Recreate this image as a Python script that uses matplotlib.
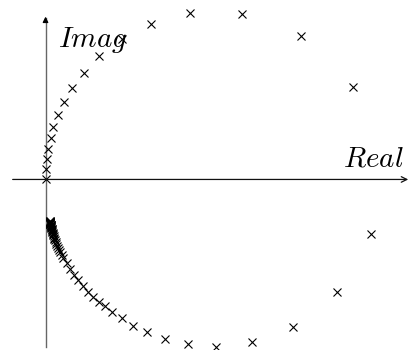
import matplotlib
matplotlib.use("Agg")
import matplotlib.pyplot as plt

plt.rcParams["mathtext.fontset"] = "cm"

# Nyquist samples, upper branch (starts at origin)
upper_re = [0.000, 0.001, 0.004, 0.008, 0.016, 0.024, 0.038, 0.057, 0.081,
            0.117, 0.163, 0.231, 0.319, 0.438, 0.595, 0.773, 0.931]
upper_im = [0.000, 0.032, 0.062, 0.092, 0.126, 0.159, 0.195, 0.235, 0.277,
            0.323, 0.374, 0.426, 0.471, 0.505, 0.502, 0.435, 0.281]

# lower branch, crowding together near its end point
lower_re = [0.988, 0.885, 0.751, 0.626, 0.517, 0.433, 0.362, 0.307, 0.266,
            0.231, 0.202, 0.180, 0.163, 0.145, 0.130, 0.115, 0.099, 0.086,
            0.074, 0.064, 0.054, 0.049, 0.045, 0.041, 0.038, 0.035, 0.033,
            0.031, 0.029, 0.027, 0.026, 0.025, 0.024, 0.023, 0.022, 0.021,
            0.021, 0.020, 0.019, 0.019, 0.018, 0.018, 0.018, 0.017, 0.017,
            0.016, 0.016, 0.016, 0.015, 0.015, 0.015, 0.015, 0.015, 0.015,
            0.014, 0.014, 0.014, 0.014, 0.014, 0.014]
lower_im = [-0.165, -0.340, -0.446, -0.493, -0.507, -0.499, -0.484, -0.461,
            -0.444, -0.420, -0.401, -0.385, -0.370, -0.355, -0.340, -0.323,
            -0.305, -0.289, -0.271, -0.253, -0.238, -0.229, -0.221, -0.214,
            -0.208, -0.201, -0.195, -0.190, -0.185, -0.180, -0.176, -0.172,
            -0.168, -0.165, -0.162, -0.159, -0.156, -0.153, -0.151, -0.149,
            -0.147, -0.145, -0.143, -0.141, -0.140, -0.139, -0.138, -0.137,
            -0.136, -0.135, -0.134, -0.133, -0.132, -0.131, -0.130, -0.129,
            -0.128, -0.128, -0.127, -0.127]

fig = plt.figure(figsize=(4.12, 3.5), dpi=100)
ax = fig.add_axes([0, 0, 1, 1])
ax.set_xlim(-0.138, 1.111)
ax.set_ylim(-0.517, 0.544)
ax.axis("off")

# coordinate axes: dark real axis, grey imaginary axis with a black head
ax.annotate("", xy=(1.108, 0), xytext=(-0.108, 0),
            arrowprops=dict(arrowstyle="->", color="#111111", lw=0.9))
ax.plot([0, 0], [-0.507, 0.49], color="#666666", lw=1.0)
ax.annotate("", xy=(0, 0.502), xytext=(0, 0.47),
            arrowprops=dict(arrowstyle="-|>", color="black", lw=0.9,
                            mutation_scale=8))

ax.plot(upper_re, upper_im, "x", color="black", ms=5.2, mew=0.8)
ax.plot(lower_re, lower_im, "x", color="black", ms=5.2, mew=0.8)

ax.text(0.902, 0.038, "$Real$", fontsize=21, ha="left", va="baseline")
ax.text(0.038, 0.402, "$Imag$", fontsize=21, ha="left", va="baseline")

fig.savefig("out.png", dpi=100)
